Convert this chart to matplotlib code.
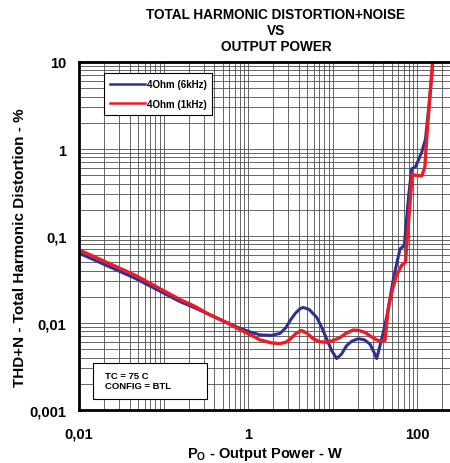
import matplotlib
matplotlib.use('Agg')
import matplotlib.pyplot as plt
from matplotlib.ticker import LogLocator, FixedLocator, NullFormatter
from matplotlib.patches import Rectangle

plt.rcParams['font.family'] = ['Liberation Sans', 'DejaVu Sans']
plt.rcParams['font.weight'] = 'bold'
plt.rcParams['mathtext.fontset'] = 'custom'
plt.rcParams['mathtext.rm'] = 'Liberation Sans:bold'
plt.rcParams['mathtext.bf'] = 'Liberation Sans:bold'

# 4 Ohm, 6 kHz
p_6k = [0.01, 0.02, 0.046, 0.1, 0.157, 0.236, 0.355, 0.55, 0.8, 1.1, 1.39, 1.9,
        2.4, 2.8, 3.14, 3.6, 4.12, 4.52, 5.3, 6.5, 7.5, 8.5, 9.8, 11.2, 12.8,
        14.7, 17, 20.2, 24, 27.8, 31, 33.3, 36, 39.9, 44, 47.8, 52.5, 58, 63,
        70.8, 75, 80, 86.5, 96.6, 113.7, 126, 140, 156]
thd_6k = [0.0635, 0.047, 0.0327, 0.0221, 0.0176, 0.0149, 0.0124, 0.0102, 0.0087,
          0.0078, 0.0073, 0.0072, 0.0076, 0.0088, 0.0106, 0.0128, 0.0146, 0.0151,
          0.0143, 0.0116, 0.0088, 0.0066, 0.0048, 0.0039, 0.0044, 0.0055, 0.0062,
          0.0066, 0.0064, 0.0057, 0.0046, 0.0039, 0.0052, 0.0078, 0.012, 0.019,
          0.032, 0.05, 0.071, 0.078, 0.15, 0.3, 0.59, 0.63, 0.92, 1.3, 3.5, 11]

# 4 Ohm, 1 kHz
p_1k = [0.01, 0.02, 0.046, 0.1, 0.157, 0.236, 0.355, 0.55, 0.8, 1.1, 1.39, 1.9,
        2.4, 2.8, 3.14, 3.7, 4.3, 5.0, 5.9, 7.0, 8.5, 10.2, 12.3, 14.7, 17.6,
        20.5, 24.3, 28.5, 33.3, 37, 41.8, 45.7, 50, 57, 65.8, 73, 88, 92, 114,
        124, 130, 154]
thd_1k = [0.0693, 0.0512, 0.0355, 0.0236, 0.0186, 0.0155, 0.0124, 0.0102, 0.0084,
          0.0072, 0.0064, 0.0059, 0.0058, 0.006, 0.0065, 0.0076, 0.0082, 0.0076,
          0.0066, 0.0061, 0.006, 0.0063, 0.0068, 0.0077, 0.0083, 0.0082, 0.0078,
          0.007, 0.0064, 0.0062, 0.0063, 0.0145, 0.022, 0.035, 0.046, 0.05, 0.52,
          0.5, 0.49, 0.62, 1.3, 11]

x_ticks = [0.01, 0.1, 1, 10, 100]
x_labels = ['0,01', '', '1', '', '100']
y_ticks = [0.001, 0.01, 0.1, 1, 10]
y_labels = ['0,001', '0,01', '0,1', '1', '10']

fig = plt.figure(figsize=(4.5, 4.64), dpi=100)
ax = fig.add_axes([79 / 450, 53 / 464, 371 / 450, 348 / 464])

ax.plot(p_6k, thd_6k, color='#2e3192', lw=2.2, label='4Ohm (6kHz)')
ax.plot(p_1k, thd_1k, color='#ed1c24', lw=2.4, label='4Ohm (1kHz)')

ax.set_xscale('log')
ax.set_yscale('log')
ax.set_xlim(0.01, 10 ** 2.3905)
ax.set_ylim(0.001, 10)

ax.xaxis.set_major_locator(FixedLocator(x_ticks))
ax.set_xticklabels(x_labels)
ax.yaxis.set_major_locator(FixedLocator(y_ticks))
ax.set_yticklabels(y_labels)
ax.xaxis.set_minor_locator(LogLocator(base=10, subs=range(2, 10), numticks=20))
ax.yaxis.set_minor_locator(LogLocator(base=10, subs=range(2, 10), numticks=20))
ax.xaxis.set_minor_formatter(NullFormatter())
ax.yaxis.set_minor_formatter(NullFormatter())
ax.tick_params(which='both', length=0)
ax.tick_params(axis='x', pad=12, labelsize=10.5)
ax.tick_params(axis='y', pad=9, labelsize=10.5)
ax.grid(which='both', color='0.3', lw=0.6)
ax.set_axisbelow(True)

for s in ['left', 'top', 'bottom']:
    ax.spines[s].set_linewidth(2)
ax.spines['right'].set_visible(False)

ax.set_xlabel(r'P$_{\mathrm{O}}$ - Output Power - W', fontsize=10.5, fontweight='bold')
ax.xaxis.set_label_coords(0.5, -0.1)
ax.set_ylabel('THD+N - Total Harmonic Distortion - %', fontsize=11, fontweight='bold')
ax.yaxis.set_label_coords(-0.14, 0.47)

fig.text(276 / 450, 1 - 31 / 464, 'TOTAL HARMONIC DISTORTION+NOISE\nVS\nOUTPUT POWER',
         ha='center', va='center', fontsize=9.8, fontweight='bold', linespacing=1.15)

leg = ax.legend(loc='upper left', bbox_to_anchor=(0.067, 0.968), fontsize=7,
                handlelength=3.6, handletextpad=0.2, labelspacing=1.0,
                borderpad=0.6, borderaxespad=0, fancybox=False, framealpha=1)
leg.get_frame().set_edgecolor('black')
leg.get_frame().set_linewidth(0.8)
for line in leg.get_lines():
    line.set_linewidth(1.8)

ax.add_patch(Rectangle((0.038, 0.032), 0.307, 0.103, transform=ax.transAxes,
                       facecolor='white', edgecolor='black', lw=0.8, zorder=3))
ax.text(0.07, 0.085, 'TC = 75 C\nCONFIG = BTL', transform=ax.transAxes,
        fontsize=6.8, fontweight='bold', va='center', ha='left', zorder=4,
        linespacing=1.1)

fig.savefig('out.png', dpi=100)
